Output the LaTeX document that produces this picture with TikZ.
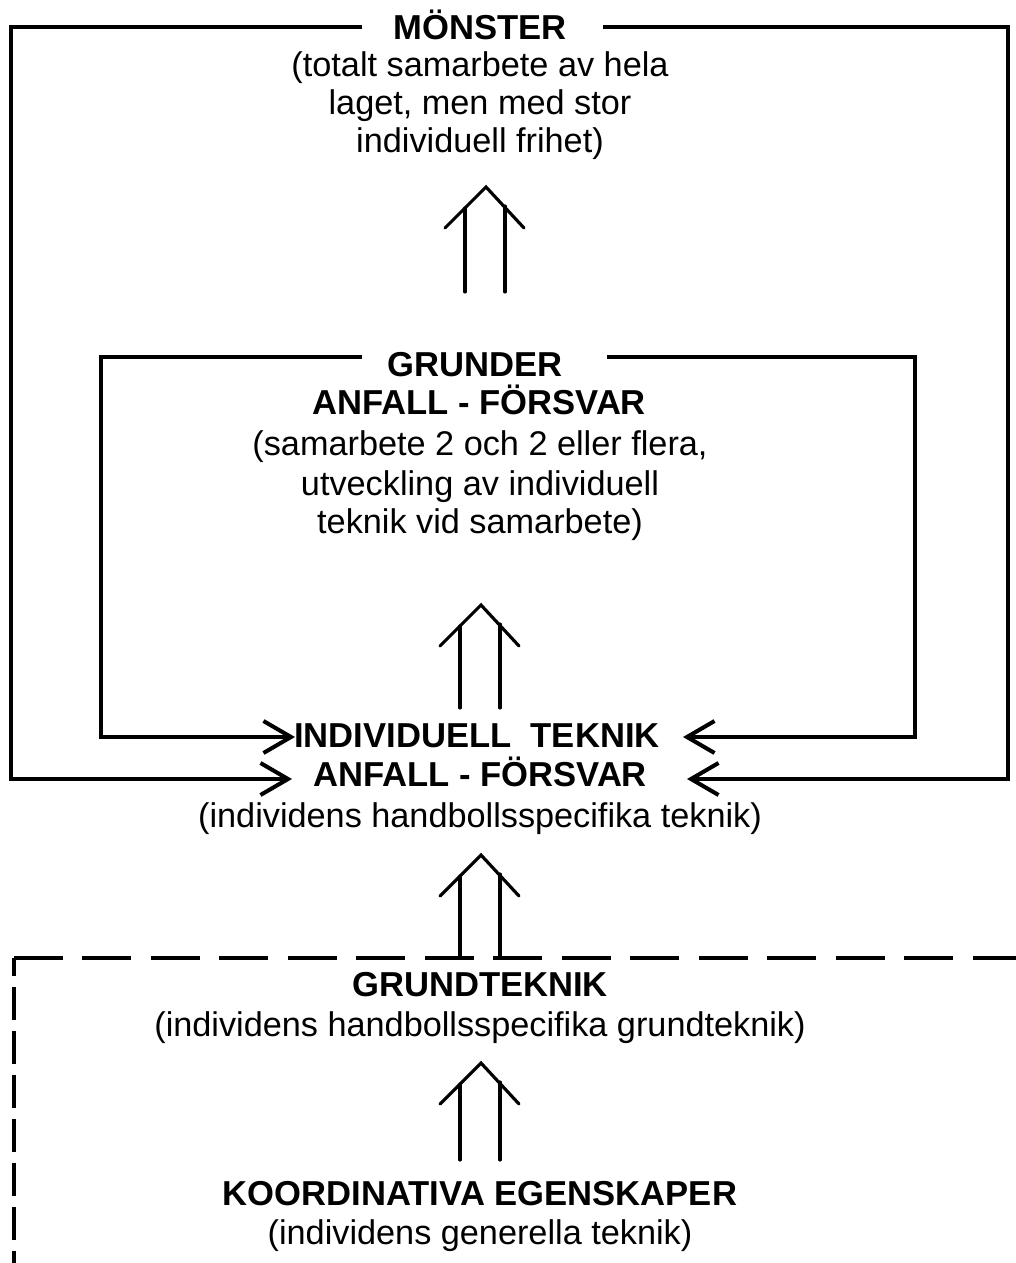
\documentclass[tikz,border=0pt]{standalone}
\usepackage{fontspec}
\setmainfont{Liberation Sans}
\usetikzlibrary{arrows.meta}

\tikzset{
  hd/.style={font=\bfseries\fontsize{19.7}{22}\selectfont, anchor=base, inner sep=0pt},
  tx/.style={font=\fontsize{19.5}{22}\selectfont, anchor=base, inner sep=0pt},
  frame/.style={line width=2.3pt},
  barb/.style={frame, -{Straight Barb[length=0.55cm, width=0.64cm]}},
  uparr/.style={line width=1.8pt, line cap=round},
}

% double up arrow: #1 apex, #2 stem length
\newcommand{\dblup}[2]{%
  \draw[uparr, shift={(#1)}] (-41,41) -- (0,0) -- (38,41);
  \draw[uparr, shift={(#1)}] (-21,21) -- (-21,#2);
  \draw[uparr, shift={(#1)}] (19,19) -- (19,#2);
}

\begin{document}
\begin{tikzpicture}[x=0.02cm, y=-0.02cm]
    \useasboundingbox (0,0) rectangle (1016,1263);
    % texts
    \node[hd] (m) at (480,40) {MÖNSTER};
    \node[tx] (m1) at (480,77) {(totalt samarbete av hela};
    \node[tx] (m2) at (480,115) {laget, men med stor};
    \node[tx] (m3) at (480,153) {individuell frihet)};
    \node[hd] (g) at (475,377) {GRUNDER};
    \node[hd] (g0) at (479,415) {ANFALL - FÖRSVAR};
    \node[tx] (g1) at (480,455) {(samarbete 2 och 2 eller flera,};
    \node[tx] (g2) at (480,495) {utveckling av individuell};
    \node[tx] (g3) at (480,533) {teknik vid samarbete)};
    \node[hd] (i) at (477,747) {INDIVIDUELL~~TEKNIK};
    \node[hd] (i0) at (480,786) {ANFALL - FÖRSVAR};
    \node[tx] (i1) at (480,827) {(individens handbollsspecifika teknik)};
    \node[hd] (b) at (480,996) {GRUNDTEKNIK};
    \node[tx] (b1) at (480,1036) {(individens handbollsspecifika grundteknik)};
    \node[hd] (k) at (480,1205) {KOORDINATIVA EGENSKAPER};
    \node[tx] (k1) at (480,1244) {(individens generella teknik)};
    % frames
    \coordinate (oL) at (362,27);
    \coordinate (oR) at (603,27);
    \coordinate (iL) at (362,357);
    \coordinate (iR) at (607,357);
    \coordinate (tL1) at (295,737);
    \coordinate (tR1) at (683,737);
    \coordinate (tL2) at (292,779);
    \coordinate (tR2) at (687,779);
    \draw[barb] (oL) -- (11,27) |- (tL2);
    \draw[barb] (oR) -- (1008,27) |- (tR2);
    \draw[barb] (iL) -- (101,357) |- (tL1);
    \draw[barb] (iR) -- (915,357) |- (tR1);
    % dashed frame
    \coordinate (c) at (14,958);
    \draw[frame, dash pattern=on 0.98cm off 0.39cm] (c) -- (1016,958);
    \draw[frame, dash pattern=on 0.66cm off 0.22cm, dash phase=0.3cm] (c) -- (14,1263);
    % arrows
    \coordinate (u1) at (486,187);
    \coordinate (u2) at (481,605);
    \coordinate (u3) at (481,855);
    \coordinate (u4) at (481,1063);
    \dblup{u1}{105}
    \dblup{u2}{103}
    \dblup{u3}{102}
    \dblup{u4}{97}
\end{tikzpicture}
\end{document}
